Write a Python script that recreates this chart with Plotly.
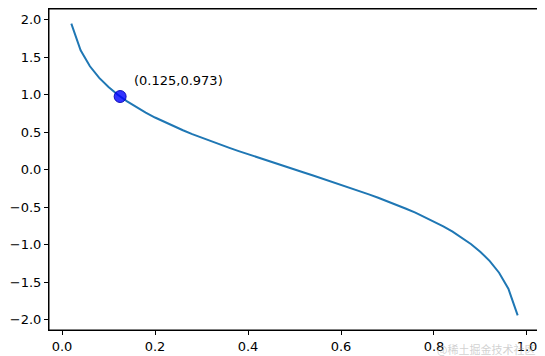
import plotly.graph_objects as go

x_vals = [0.02, 0.04, 0.06, 0.08, 0.10, 0.12, 0.14, 0.16, 0.18, 0.20,
          0.22, 0.24, 0.26, 0.28, 0.30, 0.32, 0.34, 0.36, 0.38, 0.40,
          0.42, 0.44, 0.46, 0.48, 0.50, 0.52, 0.54, 0.56, 0.58, 0.60,
          0.62, 0.64, 0.66, 0.68, 0.70, 0.72, 0.74, 0.76, 0.78, 0.80,
          0.82, 0.84, 0.86, 0.88, 0.90, 0.92, 0.94, 0.96, 0.98]
y_vals = [1.946, 1.589, 1.376, 1.221, 1.099, 0.996, 0.908, 0.829, 0.758, 0.693,
          0.633, 0.576, 0.523, 0.472, 0.424, 0.377, 0.332, 0.288, 0.245, 0.203,
          0.161, 0.121, 0.080, 0.040, 0.000, -0.040, -0.080, -0.121, -0.161, -0.203,
          -0.245, -0.288, -0.332, -0.377, -0.424, -0.472, -0.523, -0.576, -0.633, -0.693,
          -0.758, -0.829, -0.908, -0.996, -1.099, -1.221, -1.376, -1.589, -1.946]
point_x = [0.125]
point_y = [0.973]
point_label = "(0.125,0.973)"
x_ticks = [0.0, 0.2, 0.4, 0.6, 0.8, 1.0]
y_ticks = [2.0, 1.5, 1.0, 0.5, 0.0, -0.5, -1.0, -1.5, -2.0]

fig = go.Figure()
fig.add_trace(go.Scatter(x=x_vals, y=y_vals, mode="lines",
                         line=dict(color="#1f77b4", width=2), hoverinfo="skip"))
fig.add_trace(go.Scatter(x=point_x, y=point_y, mode="markers",
                         marker=dict(color="rgba(0,0,255,0.8)", size=12,
                                     line=dict(color="rgba(0,0,180,0.9)", width=1))))
fig.add_annotation(x=0.15, y=1.19, text=point_label, showarrow=False,
                   xanchor="left", yanchor="middle",
                   font=dict(family="DejaVu Sans", size=13, color="black"))
fig.add_annotation(x=1, y=0, xref="paper", yref="paper", xanchor="right", yanchor="top",
                   text="@稀土掘金技术社区", showarrow=False, yshift=-9, xshift=-3,
                   font=dict(family="Noto Sans CJK SC", size=11, color="rgba(170,170,170,0.55)"))
fig.add_shape(type="rect", xref="paper", yref="paper", x0=0, y0=0, x1=1, y1=1,
              line=dict(color="black", width=1), layer="above")

axis_common = dict(showgrid=False, zeroline=False, showline=True, linecolor="black",
                   linewidth=1, mirror=True, ticks="outside", ticklen=4, tickwidth=1,
                   tickcolor="black", automargin=False,
                   tickfont=dict(family="DejaVu Sans", size=13, color="black"))
fig.update_xaxes(range=[-0.028, 1.028], tickvals=x_ticks,
                 ticktext=[f"{v:.1f}" for v in x_ticks], **axis_common)
fig.update_yaxes(range=[-2.14, 2.14], tickvals=y_ticks,
                 ticktext=[f"{v:.1f}".replace("-", "−") for v in y_ticks], **axis_common)
# page body has an 8px default margin, so the figure is sized to fit the window
fig.update_layout(width=537, height=348, margin=dict(l=41, r=5, t=1, b=26, autoexpand=False),
                  plot_bgcolor="white", paper_bgcolor="white", showlegend=False)
fig.write_html("out.html")
